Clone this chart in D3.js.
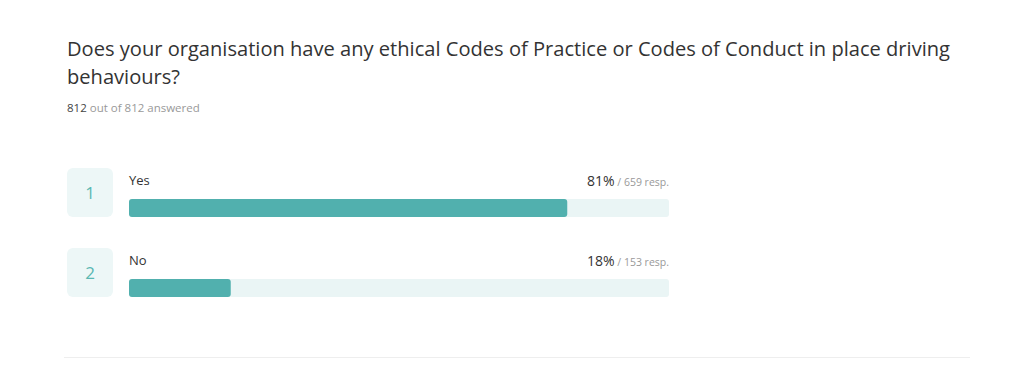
<!DOCTYPE html>
<html>
<head>
<meta charset="utf-8">
<script src="https://d3js.org/d3.v7.min.js"></script>
<style>
  body { margin: 0; background: #fff; }
  svg { display: block; font-family: "Open Sans", "Noto Sans", sans-serif; }
</style>
</head>
<body>
<svg id="chart" width="1024" height="384"></svg>
<script>

// data
const titleLines = ["Does your organisation have any ethical Codes of Practice or Codes of Conduct in place driving",
                    "behaviours?"]
const answered = 812
const totalAsked = 812
const ranks = [1, 2]
const options = ["Yes", "No"]
const percents = [81, 18]
const responses = [659, 153]

const width = 1024, height = 384

const svg = d3.select('#chart')

// title
svg.selectAll('text.title')
  .data(titleLines)
  .join('text')
    .attr('class', 'title')
    .attr('x', 67)
    .attr('y', (d, i) => 56 + i * 28)
    .style('font-size', '20.1px')
    .style('fill', '#333')
    .text(d => d)

const sub = svg.append('text')
  .attr('x', 67)
  .attr('y', 112)
  .style('font-size', '11.5px')
  .style('fill', '#999')
sub.append('tspan').style('fill', '#444').text(answered)
sub.append('tspan').text(` out of ${totalAsked} answered`)

// scales
const x = d3.scaleLinear().domain([0, answered]).range([129, 669])
const y = d3.scaleBand().domain(options).range([168, 328])

const rows = svg.selectAll('g.row')
  .data(options.map((o, i) => ({ label: o, rank: ranks[i], pct: percents[i], resp: responses[i] })))
  .join('g')
    .attr('class', 'row')
    .attr('transform', d => `translate(0,${y(d.label)})`)

// number box
rows.append('rect')
  .attr('x', 67).attr('y', 0)
  .attr('width', 46).attr('height', 49)
  .attr('rx', 6)
  .style('fill', '#edf7f7')

rows.append('text')
  .attr('x', 90).attr('y', 31)
  .attr('text-anchor', 'middle')
  .style('font-size', '17px')
  .style('fill', '#5ab8b2')
  .text(d => d.rank)

// label
rows.append('text')
  .attr('x', 129).attr('y', 17)
  .style('font-size', '13px')
  .style('fill', '#333')
  .text(d => d.label)

// track and bar
rows.append('rect')
  .attr('x', x(0)).attr('y', 31)
  .attr('width', x(answered) - x(0)).attr('height', 18)
  .attr('rx', 3)
  .style('fill', '#eaf5f5')

rows.append('rect')
  .attr('x', x(0)).attr('y', 31)
  .attr('width', d => x(d.resp) - x(0)).attr('height', 18)
  .attr('rx', 3)
  .style('fill', '#51b0ae')

// percentage + responses
const val = rows.append('text')
  .attr('x', 669).attr('y', 18)
  .attr('text-anchor', 'end')
val.append('tspan')
  .style('font-size', '14px').style('fill', '#333')
  .text(d => d.pct + '%')
val.append('tspan')
  .style('font-size', '10.5px').style('fill', '#999')
  .text(d => ` / ${d.resp} resp.`)

// bottom rule
svg.append('line')
  .attr('x1', 64).attr('x2', 970)
  .attr('y1', 357.5).attr('y2', 357.5)
  .style('stroke', '#eeeeee')

</script>
</body>
</html>
